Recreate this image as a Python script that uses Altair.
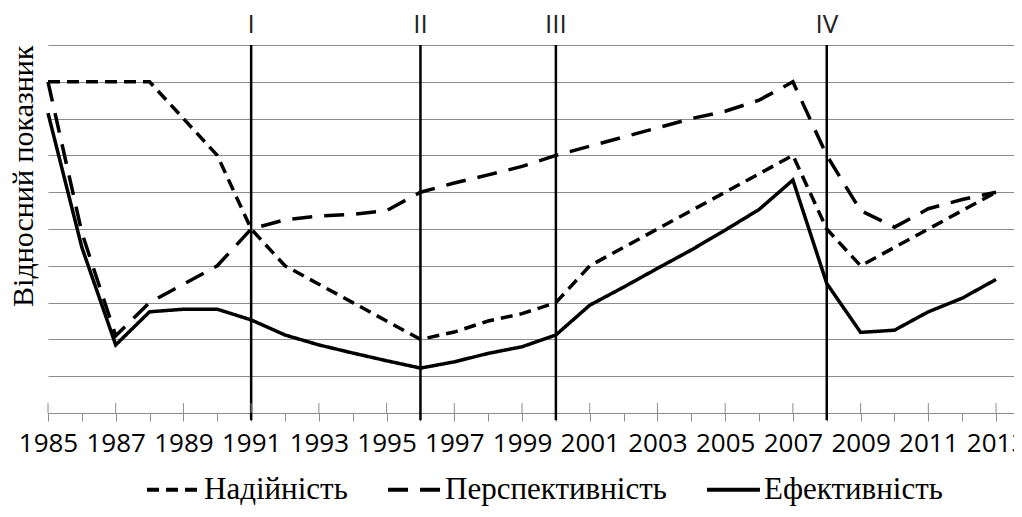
import altair as alt
import pandas as pd

# ---- data ----
years = list(range(1985, 2014))
nadiynist = [9, 9, 9, 9, 8, 7, 5, 4, 3.5, 3, 2.5, 2, 2.2, 2.5, 2.7, 3,
             4, 4.5, 5, 5.5, 6, 6.5, 7, 5, 4, 4.5, 5, 5.5, 6]
perspektyvnist = [9, 4.9, 2.1, 3.0, 3.5, 4.0, 5.0, 5.25, 5.35, 5.4, 5.5, 6.0,
                  6.25, 6.47, 6.7, 7.0, 7.25, 7.5, 7.75, 8.0, 8.2, 8.5, 9.0,
                  7.0, 5.5, 5.05, 5.55, 5.8, 6.0]
efektyvnist = [8.15, 4.5, 1.85, 2.75, 2.82, 2.82, 2.53, 2.12, 1.85, 1.63,
               1.42, 1.22, 1.39, 1.62, 1.8, 2.12, 2.93, 3.42, 3.93, 4.43,
               4.97, 5.53, 6.33, 3.52, 2.19, 2.25, 2.75, 3.12, 3.63]
series_names = ["Надійність", "Перспективність", "Ефективність"]
series_dashes = [[12, 7], [20, 12], [1, 0]]

period_years = [1991, 1996, 2000, 2008]
period_labels = ["I", "II", "III", "IV"]
label_years = years[::2]
y_title = "Відносний показник"

GRAY = "#8c8c8c"

df = pd.DataFrame({
    "year": years * 3,
    "value": nadiynist + perspektyvnist + efektyvnist,
    "series": [n for n in series_names for _ in years],
})
periods = pd.DataFrame({"year": period_years, "label": period_labels})
major = pd.DataFrame({"year": label_years})

xscale = alt.Scale(domain=[1985, 2013.53], nice=False, zero=False)
yscale = alt.Scale(domain=[0, 10], nice=False, zero=False)

xaxis = alt.Axis(values=years, format="d",
                 labelExpr="datum.value % 2 == 1 ? datum.label : ''",
                 title=None, grid=False, domainColor=GRAY, domainWidth=1,
                 tickColor=GRAY, tickSize=8, tickWidth=1,
                 labelFont="Open Sans", labelFontSize=26, labelColor="black",
                 labelPadding=9, labelOverlap=False, labelFlush=False,
                 labelBound=False)
yaxis = alt.Axis(values=list(range(0, 11)), labels=False, ticks=False,
                 domain=False, grid=True, gridColor=GRAY, gridWidth=1,
                 title=y_title, titleFont="Liberation Serif", titleFontSize=30,
                 titleFontWeight="normal", titleColor="black",
                 titleAnchor="end", titlePadding=10)

X = alt.X("year:Q", scale=xscale, axis=xaxis)

rules = alt.Chart(periods).mark_rule(color="black", strokeWidth=2.5).encode(
    x=X,
    y=alt.YDatum(datum=10, scale=yscale, axis=yaxis),
    y2=alt.datum(-0.2),
)

ticks_up = alt.Chart(major).mark_rule(color=GRAY, strokeWidth=1).encode(
    x=X,
    y=alt.YDatum(datum=0, scale=yscale, axis=yaxis),
    y2=alt.datum(0.27),
)

lines = alt.Chart(df).mark_line(color="black", strokeWidth=3.5,
                                strokeCap="butt").encode(
    x=X,
    y=alt.Y("value:Q", scale=yscale, axis=yaxis),
    strokeDash=alt.StrokeDash(
        "series:N",
        scale=alt.Scale(domain=series_names, range=series_dashes),
        legend=alt.Legend(title=None, orient="none", legendX=97, legendY=416,
                          direction="horizontal", columns=3,
                          symbolType="stroke", symbolSize=2800,
                          symbolStrokeWidth=4, symbolStrokeColor="black",
                          labelFont="Liberation Serif", labelFontSize=31,
                          labelColor="black", labelLimit=400,
                          columnPadding=32, labelOffset=2, padding=0),
    ),
    order="year:Q",
)

roman = alt.Chart(periods).mark_text(font="Open Sans", fontSize=26, dy=-20,
                                     color="#222222", baseline="middle").encode(
    x=X,
    y=alt.YDatum(datum=10, scale=yscale, axis=yaxis),
    text="label:N",
)

chart = alt.layer(rules, ticks_up, lines, roman).properties(
    width=966, height=368,
    autosize=alt.AutoSizeParams(type="none"),
    padding={"left": 40, "top": 37, "right": 0, "bottom": 96},
).configure_view(stroke=None)

chart.save("out.html", embed_options={"renderer": "svg", "actions": False})
